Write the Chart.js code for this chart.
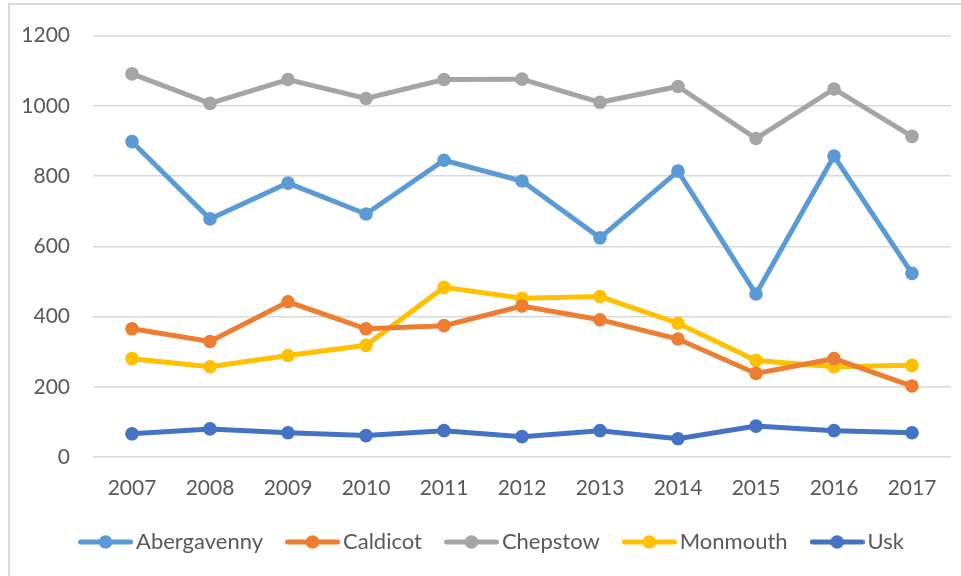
<!DOCTYPE html>
<html>
<head>
<meta charset="utf-8">
<script src="https://cdn.jsdelivr.net/npm/chart.js@4.4.1/dist/chart.umd.min.js"></script>
<style>
  html, body { margin: 0; padding: 0; background: #fff; }
  #wrap { position: relative; width: 961px; height: 576px; overflow: hidden; }
  #frame { position: absolute; left: 8px; top: 3px; width: 1000px; height: 600px;
           border-left: 2px solid #d9d9d9; border-top: 2px solid #d9d9d9; pointer-events: none; }
  canvas { position: absolute; left: 0; top: 0; }
</style>
</head>
<body>
<div id="wrap">
  <canvas id="chart" width="961" height="576"></canvas>
  <div id="frame"></div>
</div>
<script>
// categories and series
const years = ['2007', '2008', '2009', '2010', '2011', '2012', '2013', '2014', '2015', '2016', '2017'];
const abergavenny = [898, 678, 780, 692, 845, 786, 624, 814, 464, 857, 523];
const caldicot    = [365, 329, 442, 365, 374, 430, 391, 336, 238, 280, 202];
const chepstow    = [1091, 1007, 1075, 1021, 1075, 1076, 1010, 1055, 907, 1048, 913];
const monmouth    = [280, 257, 289, 318, 483, 452, 457, 381, 275, 257, 261];
const usk         = [66, 80, 69, 61, 75, 58, 75, 52, 88, 75, 69];
const yTicks = [0, 200, 400, 600, 800, 1000, 1200];

const COLORS = {
  Abergavenny: '#5B9BD5',
  Caldicot: '#ED7D31',
  Chepstow: '#A5A5A5',
  Monmouth: '#FFC000',
  Usk: '#4472C4'
};

const FONT = 'Lato, "Open Sans", sans-serif';
const TEXT = '#595959';

// legend marker: short line with a dot in the middle
function legendMarker(color) {
  const c = document.createElement('canvas');
  c.width = 55; c.height = 16;
  const g = c.getContext('2d');
  g.strokeStyle = color; g.lineWidth = 5; g.lineCap = 'round';
  g.beginPath(); g.moveTo(2.5, 8); g.lineTo(52.5, 8); g.stroke();
  g.fillStyle = color;
  g.beginPath(); g.arc(27.5, 8, 6.8, 0, Math.PI * 2); g.fill();
  return c;
}

function series(label, data) {
  const color = COLORS[label];
  return {
    label, data,
    borderColor: color, backgroundColor: color,
    borderWidth: 5, tension: 0,
    pointRadius: 6.8, pointHoverRadius: 6.8,
    pointBackgroundColor: color, pointBorderWidth: 0
  };
}

// nudge the legend a little to the right, like the original
const legendShift = {
  id: 'legendShift',
  afterLayout(chart) { chart.legend.left += 22; chart.legend.right += 2; }
};

new Chart(document.getElementById('chart'), {
  type: 'line',
  data: {
    labels: years,
    datasets: [
      series('Abergavenny', abergavenny),
      series('Caldicot', caldicot),
      series('Chepstow', chepstow),
      series('Monmouth', monmouth),
      series('Usk', usk)
    ]
  },
  options: {
    responsive: false,
    animation: false,
    layout: { padding: { left: 15, right: 10, top: 32, bottom: 13 } },
    plugins: {
      tooltip: { enabled: false },
      legend: {
        position: 'bottom',
        labels: {
          usePointStyle: true,
          pointStyleWidth: 39,
          padding: 30,
          color: TEXT,
          font: { family: FONT, size: 22 },
          generateLabels(chart) {
            return chart.data.datasets.map((ds, i) => ({
              text: ds.label,
              fillStyle: ds.borderColor,
              strokeStyle: ds.borderColor,
              fontColor: TEXT,
              pointStyle: legendMarker(ds.borderColor),
              lineWidth: 0,
              hidden: false,
              datasetIndex: i
            }));
          }
        }
      }
    },
    scales: {
      x: {
        offset: true,
        afterFit(scale) { scale.height = 44; },
        grid: { display: false, drawTicks: false },
        border: { display: false },
        ticks: { color: TEXT, font: { family: FONT, size: 21 }, padding: 19 }
      },
      y: {
        min: 0, max: 1200,
        afterFit(scale) { scale.width = 78; },
        afterBuildTicks(scale) { scale.ticks = yTicks.map(v => ({ value: v })); },
        grid: { color: '#d9d9d9', lineWidth: 1.5, drawTicks: false },
        border: { display: false },
        ticks: { color: TEXT, font: { family: FONT, size: 21 }, padding: 23, callback: v => String(v) }
      }
    }
  },
  plugins: [legendShift]
});
</script>
</body>
</html>
